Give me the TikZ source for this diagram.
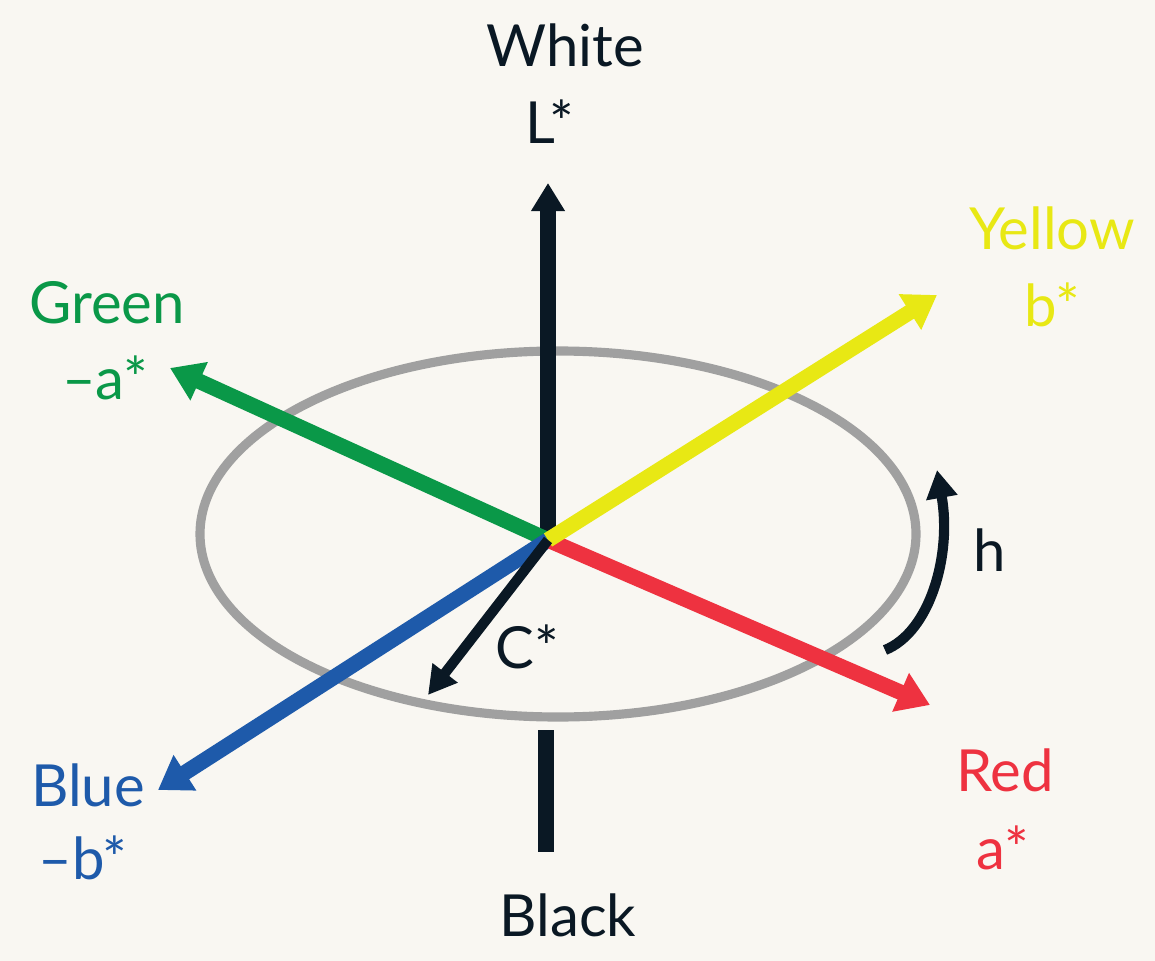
\documentclass[tikz,border=0pt]{standalone}
\usepackage{fontspec}
\setmainfont{Lato}
\usetikzlibrary{arrows.meta}
\definecolor{paper}{RGB}{249,247,242}
\definecolor{axisDark}{RGB}{10,24,36}
\definecolor{ringGray}{RGB}{160,160,160}
\definecolor{labGreen}{RGB}{10,152,72}
\definecolor{labYellow}{RGB}{232,232,20}
\definecolor{labRed}{RGB}{238,50,64}
\definecolor{labBlue}{RGB}{30,90,170}

\begin{document}
\begin{tikzpicture}[x=0.01cm, y=-0.01cm,
    lab/.style={font=\fontsize{16.5}{20}\selectfont, inner sep=0pt, anchor=center},
    axis/.style={line width=4.8pt, draw=axisDark},
    ray/.style={line width=4.4pt, -{Triangle[length=3.2mm, width=4mm]}},
    small/.style={line width=2.9pt, draw=axisDark, -{Triangle[length=2.8mm, width=3mm]}}]

    % page
    \fill[paper] (0,0) rectangle (1155,961);
    \useasboundingbox (0,0) rectangle (1155,961);

    % points
    \coordinate (o)  at (548,540);
    \coordinate (top) at (548,183);
    \coordinate (lo1) at (546,730);
    \coordinate (lo2) at (546,852);
    \coordinate (ye) at (937,295);
    \coordinate (gr) at (170,368);
    \coordinate (rd) at (930,705);
    \coordinate (bl) at (158,790);
    \coordinate (cs) at (428,695);
    \coordinate (h0) at (885,650);
    \coordinate (h1) at (930,632);
    \coordinate (h2) at (952,555);
    \coordinate (h3) at (937,470);

    % hue circle
    \draw[ringGray, line width=2.6pt] (558,534) ellipse [x radius=358, y radius=183];

    % lightness axis
    \draw[axis, -{Triangle[length=2.8mm, width=3.2mm]}] (o) -- (top);
    \draw[axis] (lo1) -- (lo2);

    % colour axes
    \draw[ray, labGreen]  (o) -- (gr);
    \draw[ray, labBlue]   (o) -- (bl);
    \draw[ray, labRed]    (o) -- (rd);
    \draw[ray, labYellow] (o) -- (ye);
    \draw[small] (o) -- (cs);
    \draw[small] (h0) .. controls (h1) and (h2) .. (h3);

    % labels
    \node[lab, text=axisDark]  (white) at (565,45)  {White};
    \node[lab, text=axisDark]  (lstar) at (550,122) {L*};
    \node[lab, text=labYellow] (yel)   at (1052,228) {Yellow};
    \node[lab, text=labYellow] (bstar) at (1052,305) {b*};
    \node[lab, text=labGreen]  (grn)   at (107,303) {Green};
    \node[lab, text=labGreen]  (ma)    at (105,378) {–a*};
    \node[lab, text=axisDark]  (hue)   at (990,550) {h};
    \node[lab, text=axisDark]  (cstar) at (527,647) {C*};
    \node[lab, text=labBlue]   (blu)   at (88,785)  {Blue};
    \node[lab, text=labBlue]   (mb)    at (83,858)  {–b*};
    \node[lab, text=labRed]    (red)   at (1005,770) {Red};
    \node[lab, text=labRed]    (astar) at (1003,848) {a*};
    \node[lab, text=axisDark]  (blk)   at (568,915) {Black};
  \end{tikzpicture}
\end{document}
